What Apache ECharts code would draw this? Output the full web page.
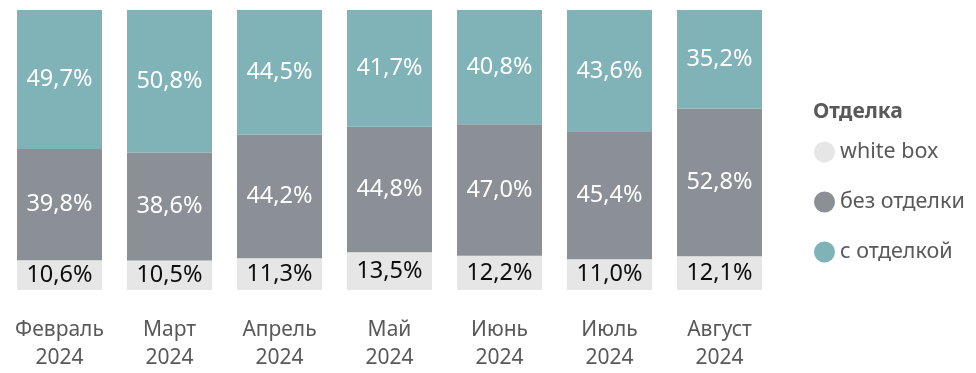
<!DOCTYPE html>
<html><head><meta charset="utf-8">
<script src="https://cdn.jsdelivr.net/npm/echarts@6/dist/echarts.min.js"></script>
<style>html,body{margin:0;padding:0;background:#fff}#c{width:976px;height:373px}</style>
</head><body><div id="c"></div>
<script>
const categories = ['Февраль\n2024','Март\n2024','Апрель\n2024','Май\n2024','Июнь\n2024','Июль\n2024','Август\n2024'];
const whiteBox = [10.6, 10.5, 11.3, 13.5, 12.2, 11.0, 12.1];
const bezOtdelki = [39.8, 38.6, 44.2, 44.8, 47.0, 45.4, 52.8];
const sOtdelkoi = [49.7, 50.8, 44.5, 41.7, 40.8, 43.6, 35.2];
const seriesNames = ['white box', 'без отделки', 'с отделкой'];
const colors = ['#E6E6E6', '#8B9096', '#80B3B7'];
const labelColors = ['#0d0d0d', '#ffffff', '#ffffff'];
const FONT = 'Noto Sans';

const raw = [whiteBox, bezOtdelki, sOtdelkoi];
const totals = categories.map((_, i) => raw.reduce((s, a) => s + a[i], 0));
const fmt = v => v.toFixed(1).replace('.', ',') + '%';

const series = raw.map((arr, k) => ({
  name: seriesNames[k],
  type: 'bar',
  stack: 'total',
  barWidth: 85,
  itemStyle: { color: colors[k] },
  label: {
    show: true,
    position: 'inside',
    color: labelColors[k],
    fontFamily: FONT,
    fontSize: 23.5,
    formatter: p => fmt(arr[p.dataIndex])
  },
  data: arr.map((v, i) => v / totals[i] * 100)
}));

const chart = echarts.init(document.getElementById('c'));
chart.setOption({
  animation: false,
  textStyle: { fontFamily: FONT },
  title: {
    text: 'Отделка', left: 808, top: 97,
    textStyle: { fontFamily: FONT, fontSize: 21, fontWeight: 'bold', color: '#595959' }
  },
  legend: {
    orient: 'vertical', left: 809, top: 136,
    icon: 'circle', itemWidth: 21, itemHeight: 21, itemGap: 28,
    data: seriesNames,
    textStyle: { fontFamily: FONT, fontSize: 21.5, color: '#595959' }
  },
  grid: { left: 4.5, width: 770, top: 10, bottom: 83, containLabel: false },
  xAxis: {
    type: 'category', data: categories,
    axisLine: { show: false }, axisTick: { show: false },
    axisLabel: { color: '#595959', fontFamily: FONT, fontSize: 21, lineHeight: 28, margin: 26, interval: 0 }
  },
  yAxis: { type: 'value', min: 0, max: 100, show: false, splitLine: { show: false } },
  series
});
</script></body></html>
